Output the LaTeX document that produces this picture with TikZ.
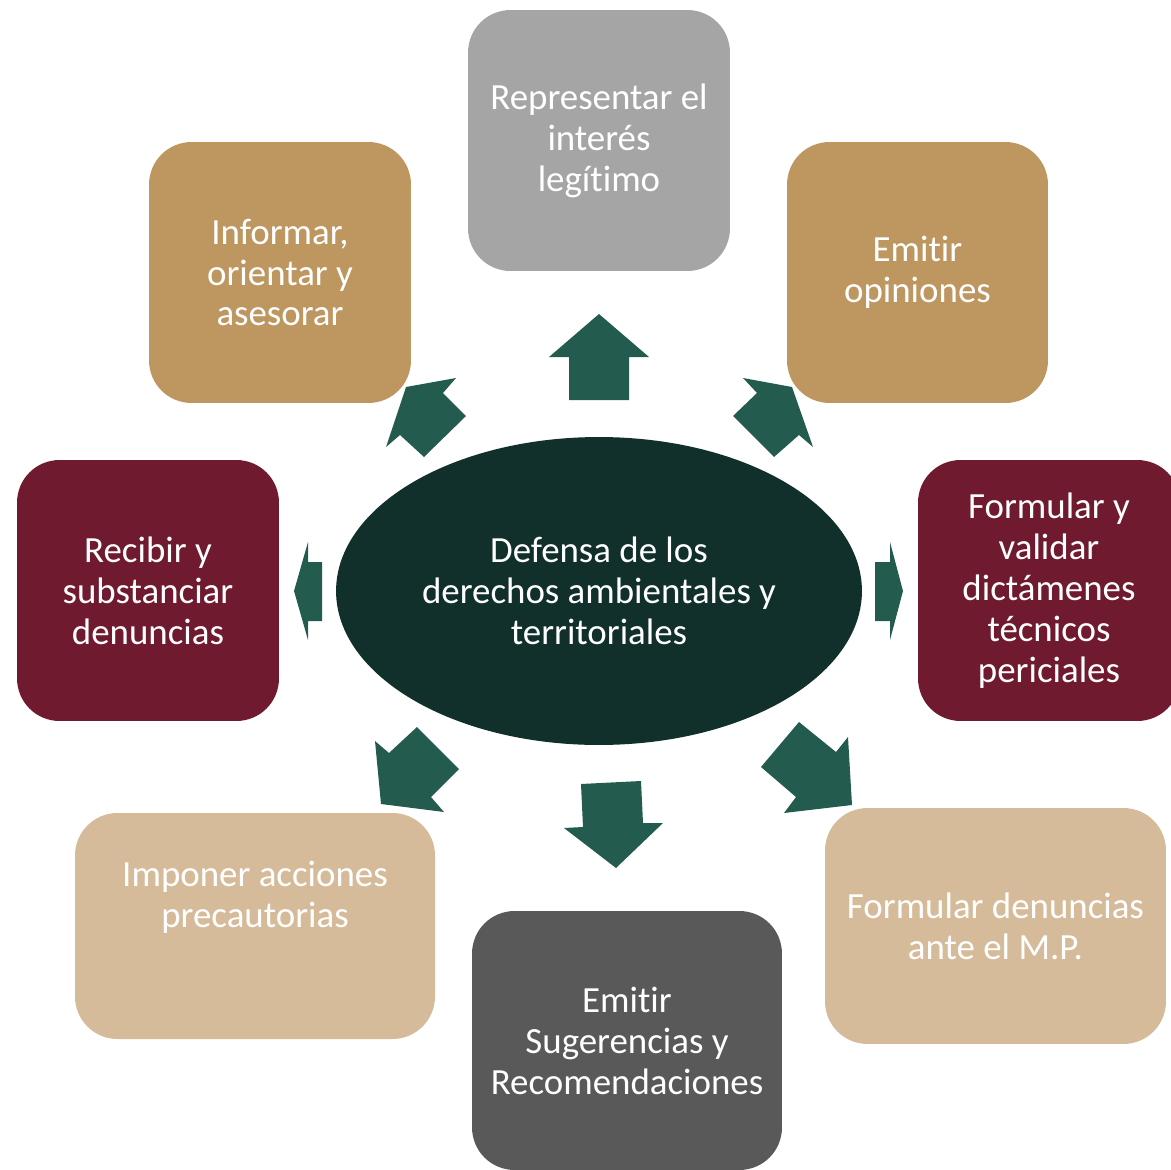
\documentclass[tikz,border=0pt]{standalone}
\usepackage{fontspec}
\setmainfont{Carlito}[RawFeature={-liga;-clig;-calt;-dlig}]
\usetikzlibrary{shapes.geometric}

\definecolor{boxgray}{HTML}{A5A5A5}
\definecolor{boxtan}{HTML}{BD9660}
\definecolor{boxwine}{HTML}{6F1A2E}
\definecolor{boxsand}{HTML}{D5BB99}
\definecolor{boxdark}{HTML}{595959}
\definecolor{coregreen}{HTML}{12302B}
\definecolor{arrowgreen}{HTML}{235B4E}

\tikzset{
  box/.style={rounded corners=0.85cm, text=white, align=center, inner sep=0pt,
    font=\fontsize{21}{23.3}\selectfont},
  arrowshape/.style={fill=arrowgreen}
}

\begin{document}
\begin{tikzpicture}[x=0.02cm,y=-0.02cm]
\useasboundingbox (0,0) rectangle (1171,1170);
\clip (0,0) rectangle (1171,1170);

% Centre
\node[ellipse,fill=coregreen,minimum width=10.52cm,minimum height=6.16cm,inner sep=0pt,text=white,align=center,font=\fontsize{21}{23.3}\selectfont](core) at (599,591){Defensa de los\\derechos ambientales y\\territoriales};

% Upper boxes
\node[box,fill=boxgray,minimum width=5.24cm,minimum height=5.22cm](rep) at (599,140.5){Representar el\\interés\\legítimo};
\node[box,fill=boxtan,minimum width=5.24cm,minimum height=5.22cm](inf) at (280,272.5){Informar,\\orientar y\\asesorar};
\node[box,fill=boxtan,minimum width=5.22cm,minimum height=5.22cm](opi) at (917.5,272.5){Emitir\\opiniones};

% Side boxes
\node[box,fill=boxwine,minimum width=5.24cm,minimum height=5.22cm](rec) at (148,590.5){Recibir y\\substanciar\\denuncias};
\node[box,fill=boxwine,minimum width=5.24cm,minimum height=5.22cm](dic) at (1049,590.5){Formular y\\validar\\dictámenes\\técnicos\\periciales};

% Lower boxes
\fill[boxsand,rounded corners=0.85cm] (75,813) rectangle (435,1039);
\node[box](imp) at (255,897){Imponer acciones\\precautorias};
\node[box,fill=boxdark,minimum width=6.2cm,minimum height=5.18cm](sug) at (627,1040.5){Emitir\\Sugerencias y\\Recomendaciones};
\node[box,fill=boxsand,minimum width=6.82cm,minimum height=4.72cm](den) at (995.5,926){Formular denuncias\\ante el M.P.};

% Arrows
\fill[arrowshape] (599,314) -- (649,357) -- (629,357) -- (629,400) -- (569,400) -- (569,357) -- (549,357) -- cycle; % up
\fill[arrowshape] (294,591) -- (308,542) -- (308,562) -- (322,562) -- (322,621) -- (308,621) -- (308,640) -- cycle; % left
\fill[arrowshape] (903,591) -- (890,542) -- (890,562) -- (875,562) -- (875,621) -- (890,621) -- (890,640) -- cycle; % right
\fill[arrowshape] (406,387) -- (456,378) -- (443,393) -- (466,416) -- (424,457) -- (400,435) -- (386,447) -- cycle; % up left
\fill[arrowshape] (792,387) -- (743,378) -- (757,393) -- (733,416) -- (774,457) -- (799,435) -- (813,447) -- cycle; % up right
\fill[arrowshape] (381,804) -- (375,741) -- (389,753) -- (417,727) -- (459,769) -- (431,797) -- (444,812) -- cycle; % down left
\fill[arrowshape] (852,805) -- (848,737) -- (836,752) -- (799,722) -- (761,767) -- (796,797) -- (784,813) -- cycle; % down right
\fill[arrowshape] (616,868) -- (663,823) -- (643,823) -- (641,781) -- (581,784) -- (583,827) -- (564,828) -- cycle; % down

\end{tikzpicture}
\end{document}
